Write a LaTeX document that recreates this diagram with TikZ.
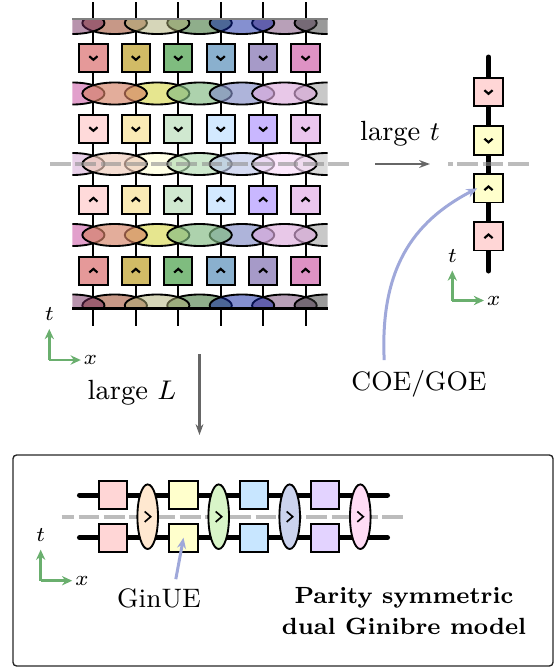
\documentclass[tikz,border=0pt]{standalone}
\usepackage{tikz}
\usetikzlibrary{arrows.meta}

% ovals, dark outer rows
\definecolor{ovalA0}{HTML}{71275B}
\definecolor{ovalA1}{HTML}{8F310F}
\definecolor{ovalA2}{HTML}{ADAD73}
\definecolor{ovalA3}{HTML}{1F5D17}
\definecolor{ovalA4}{HTML}{0B21A1}
\definecolor{ovalA5}{HTML}{714171}
\definecolor{ovalA6}{HTML}{353535}
% ovals, middle rows
\definecolor{ovalB0}{HTML}{D26DB0}
\definecolor{ovalB1}{HTML}{D48165}
\definecolor{ovalB2}{HTML}{D9D953}
\definecolor{ovalB3}{HTML}{81BA81}
\definecolor{ovalB4}{HTML}{828CC6}
\definecolor{ovalB5}{HTML}{DCAADC}
\definecolor{ovalB6}{HTML}{ABABAB}
% ovals, centre row
\definecolor{ovalC0}{HTML}{DCB7DC}
\definecolor{ovalC1}{HTML}{F0CBBA}
\definecolor{ovalC2}{HTML}{FFFFD9}
\definecolor{ovalC3}{HTML}{B2DCB2}
\definecolor{ovalC4}{HTML}{BEC8EB}
\definecolor{ovalC5}{HTML}{FADCFA}
\definecolor{ovalC6}{HTML}{C9C9C9}
% squares
\definecolor{darkg0}{HTML}{E59999}
\definecolor{darkg1}{HTML}{D1BB66}
\definecolor{darkg2}{HTML}{7FBC7F}
\definecolor{darkg3}{HTML}{8AB0CE}
\definecolor{darkg4}{HTML}{A69AC8}
\definecolor{darkg5}{HTML}{DE92C4}
\definecolor{lightg0}{HTML}{FFDADA}
\definecolor{lightg1}{HTML}{FAEAB5}
\definecolor{lightg2}{HTML}{D0E8D0}
\definecolor{lightg3}{HTML}{D3E9FF}
\definecolor{lightg4}{HTML}{C9B7FF}
\definecolor{lightg5}{HTML}{EBC6EE}
\definecolor{paleyellow}{HTML}{FFFFCC}
\definecolor{palepink}{HTML}{FFD6D6}
\definecolor{paleblue}{HTML}{C8E6FF}
\definecolor{palelilac}{HTML}{E3D3FF}
% arrows
\definecolor{axisgreen}{HTML}{6AAF6E}
\definecolor{noteblue}{HTML}{9FA8DA}
\definecolor{stepgray}{HTML}{666666}
\definecolor{cutgray}{HTML}{8F8F8F}

\tikzset{
  wire/.style={line width=.7pt},
  fatwire/.style={line width=1.67pt,line cap=round},
  gatebox/.style={draw=black,line width=.65pt,minimum size=9.45pt,inner sep=0pt},
  chevron/.style={line width=.72pt},
  sidechevron/.style={line width=.55pt},
  oval/.style={draw=black,line width=.62pt},
  cut/.style={cutgray,opacity=.6,line width=1.2pt,dash pattern=on 6.9pt off 1.53pt},
  axis/.style={axisgreen,line width=.85pt,-{Stealth[length=3.4pt,width=3.1pt]}},
  stepline/.style={stepgray,line width=.85pt,-{Stealth[length=3.6pt,width=2.6pt]}},
  note/.style={noteblue,line width=1pt,-{Stealth[length=3.6pt,width=3pt]}},
  plainlabel/.style={font=\fontsize{8.9}{11}\selectfont},
  steplabel/.style={font=\fontsize{9.25}{11}\selectfont},
}

\begin{document}
\begin{tikzpicture}[x=.33333pt,y=-.33333pt]

\useasboundingbox (0,0) rectangle (554,671);

% lattice wires
\foreach \i in {0,...,5}
  \foreach \ya/\yb in {2/19,31.3/85.2,101.8/155.7,172.3/226.7,243.3/297.2,308.5/326}
    \draw[wire] (93.4+42.44*\i,\ya) -- (93.4+42.44*\i,\yb);

% lattice squares
\foreach \i in {0,...,5} {
  \node[gatebox,fill=darkg\i] (ga\i) at (93.4+42.44*\i,58) {};
  \node[gatebox,fill=lightg\i] (gb\i) at (93.4+42.44*\i,129) {};
  \node[gatebox,fill=lightg\i] (gc\i) at (93.4+42.44*\i,199.7) {};
  \node[gatebox,fill=darkg\i] (gd\i) at (93.4+42.44*\i,270.7) {};
  \draw[chevron] (93.4+42.44*\i-4.1,56.2) -- ++(4.1,3.6) -- ++(4.1,-3.6);
  \draw[chevron] (93.4+42.44*\i-4.1,127.2) -- ++(4.1,3.6) -- ++(4.1,-3.6);
  \draw[chevron] (93.4+42.44*\i-4.1,201.5) -- ++(4.1,-3.6) -- ++(4.1,3.6);
  \draw[chevron] (93.4+42.44*\i-4.1,272.5) -- ++(4.1,-3.6) -- ++(4.1,3.6);
}

% lattice ovals
\begin{scope}
  \clip (72.3,19) rectangle (327.7,308.5);
  \foreach \i in {1,3,0,2,5,4,6} {
    \draw[oval,fill=ovalA\i,fill opacity=.5] (72.2+42.44*\i,23) ellipse [x radius=32.3,y radius=11];
  }
  \foreach \i in {0,2,1,3,4,6,5} {
    \draw[oval,fill=ovalB\i,fill opacity=.65] (72.2+42.44*\i,93.5) ellipse [x radius=32.3,y radius=11];
    \draw[oval,fill=ovalC\i,fill opacity=.65] (72.2+42.44*\i,164) ellipse [x radius=32.3,y radius=11];
  }
  \foreach \i in {0,2,1,4,3,6,5} {
    \draw[oval,fill=ovalB\i,fill opacity=.65] (72.2+42.44*\i,235) ellipse [x radius=32.3,y radius=11];
  }
  \foreach \i in {1,3,0,2,5,4,6} {
    \draw[oval,fill=ovalA\i,fill opacity=.5] (72.2+42.44*\i,305.5) ellipse [x radius=32.3,y radius=11];
  }
\end{scope}

% lattice top and bottom edge
\draw[wire,black!50] (72.3,19) -- (327.7,19);
\draw[wire] (72.3,308.5) -- (327.7,308.5);

% cut through lattice
\draw[cut] (50,164) -- (351,164);

% large t column
\coordinate (coltop) at (488.5,57);
\coordinate (colbot) at (488.5,271);
\draw[fatwire] (coltop) -- (colbot);
\node[gatebox,fill=palepink] (ra) at (488.5,92) {};
\node[gatebox,fill=paleyellow] (rb) at (488.5,140.5) {};
\node[gatebox,fill=paleyellow] (rc) at (488.5,188.3) {};
\node[gatebox,fill=palepink] (rd) at (488.5,236.3) {};
\draw[chevron] (484.4,90.2) -- ++(4.1,3.6) -- ++(4.1,-3.6);
\draw[chevron] (484.4,138.7) -- ++(4.1,3.6) -- ++(4.1,-3.6);
\draw[chevron] (484.4,190.1) -- ++(4.1,-3.6) -- ++(4.1,3.6);
\draw[chevron] (484.4,238.1) -- ++(4.1,-3.6) -- ++(4.1,3.6);
\draw[cut,dash phase=5.33pt] (448,164) -- (529,164);

% large t arrow
\coordinate (ta) at (375,164);
\coordinate (tb) at (430,164);
\draw[stepline] (ta) -- (tb);
\node[steplabel] (larget) at (400,134) {large $t$};

% large L arrow
\coordinate (la) at (199.5,354);
\coordinate (lb) at (199.5,435);
\draw[stepline] (la) -- (lb);
\node[steplabel] (largel) at (132,393) {large $L$};

% COE label and arrow
\node[plainlabel] (coe) at (419,384) {COE/GOE};
\draw[note] ([xshift=-11.6pt]coe.north) .. controls (380,270) and (412,222) .. ([xshift=1.3pt]rc.west);

% axes
\coordinate (oa) at (49.3,360);
\draw[axis] (oa) -- ++(0,-31) node[above=-1pt,black,font=\scriptsize] (ta1) {$t$};
\draw[axis] (oa) -- ++(31.5,0) node[right=-2.8pt,black,font=\scriptsize] (xa1) {$x$};
\coordinate (ob) at (452.3,300.5);
\draw[axis] (ob) -- ++(0,-30) node[above=-1pt,black,font=\scriptsize] (ta2) {$t$};
\draw[axis] (ob) -- ++(31.7,0) node[right=-2.8pt,black,font=\scriptsize] (xa2) {$x$};
\coordinate (oc) at (40.7,580.7);
\draw[axis] (oc) -- ++(0,-31) node[above=-1pt,black,font=\scriptsize] (ta3) {$t$};
\draw[axis] (oc) -- ++(31.5,0) node[right=-2.8pt,black,font=\scriptsize] (xa3) {$x$};

% dual model box
\draw[draw=black!85,line width=.45pt,rounded corners=1.2pt] (13,455) rectangle (553,666);
\draw[cut,dash phase=2.77pt] (61.7,516.7) -- (405,516.7);
\coordinate (ua) at (79.5,495);
\coordinate (ub) at (387.5,495);
\coordinate (va) at (79.5,537.7);
\coordinate (vb) at (387.5,537.7);
\draw[fatwire] (ua) -- (ub);
\draw[fatwire] (va) -- (vb);

\foreach \cx/\col/\nm in {112.8/palepink/a,183.5/paleyellow/b,254/paleblue/c,325/palelilac/d} {
  \node[gatebox,fill=\col] (u\nm) at (\cx,495) {};
  \node[gatebox,fill=\col] (d\nm) at (\cx,537.7) {};
}

\foreach \cx/\col in {147.7/FFE8D0,218.7/D8F5C8,289.7/CBD3EE,360.3/FFDCF5} {
  \definecolor{sidefill}{HTML}{\col}
  \draw[oval,fill=sidefill] (\cx,516.7) ellipse [x radius=10.3,y radius=32.3];
  \draw[sidechevron] (\cx-3,511.5) -- ++(6,5.2) -- ++(-6,5.2);
}

% GinUE label and arrow
\node[plainlabel] (ginue) at (159,598) {GinUE};
\draw[note] ([xshift=5.6pt,yshift=-.5pt]ginue.north) -- (db.center);

% model name
\node[font=\fontsize{7.8}{10}\bfseries,align=center,inner sep=0pt] (model) at (404,611) {Parity symmetric\\[.4pt]dual Ginibre model};

\end{tikzpicture}
\end{document}
